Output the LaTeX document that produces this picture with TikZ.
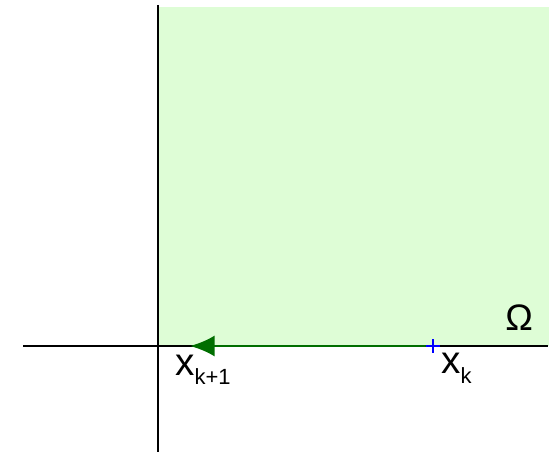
\documentclass[tikz,border=0pt]{standalone}
\usepackage{fontspec}
\setmainfont{Liberation Sans}
\usetikzlibrary{arrows.meta,calc}
\definecolor{regiongreen}{RGB}{222,253,214}
\definecolor{stepgreen}{RGB}{0,110,0}
\tikzset{
  axis/.style={line width=1.6pt,black},
  lbl/.style={inner sep=0pt,anchor=base west},
}
\newcommand{\ptname}[1]{{\fontsize{22}{22}\selectfont x}\raisebox{-0.2cm}{\fontsize{12.5}{12.5}\selectfont #1}}
\begin{document}
\begin{tikzpicture}[x=0.02cm,y=-0.02cm]
\useasboundingbox (0,0) rectangle (550,452);
% region Omega
\fill[regiongreen] (158,7) rectangle (549,346);
% axes
\coordinate (west) at (23,346);
\coordinate (east) at (548,346);
\coordinate (north) at (158,5);
\coordinate (south) at (158,452);
\draw[axis] (west) -- (east);
\draw[axis] (north) -- (south);
% points
\coordinate (xk) at (433,346);
\coordinate (xkk) at (190,346);
\draw[line width=1.6pt,stepgreen,-{Latex[length=14pt,width=12pt]}] (xk) -- (xkk);
\draw[line width=1.6pt,blue] ($(xk)+(-7,0)$) -- ($(xk)+(7,0)$) ($(xk)+(0,-7)$) -- ($(xk)+(0,7)$);
% labels
\node[lbl] (lxkk) at (175,375) {\ptname{k+1}};
\node[lbl] (lxk) at (441,373) {\ptname{k}};
\node[lbl,font=\fontsize{21}{21}\selectfont] (omega) at (505,330) {Ω};
\end{tikzpicture}
\end{document}
